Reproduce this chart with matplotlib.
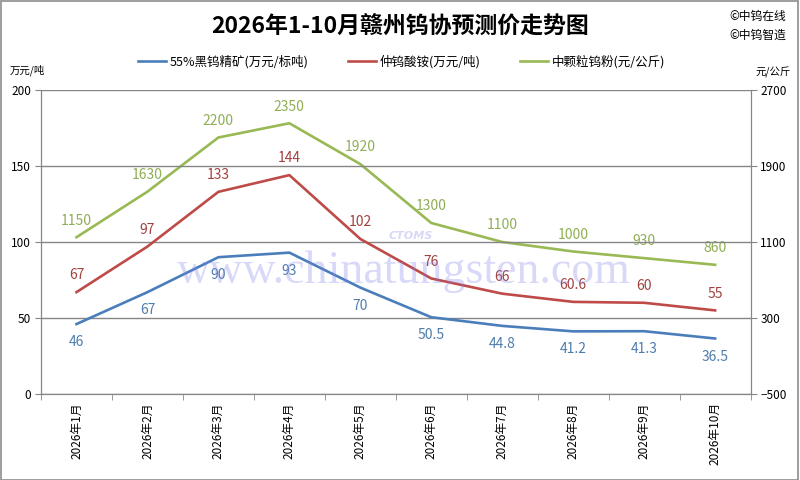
import numpy as np
import matplotlib.pyplot as plt
from matplotlib.patches import Rectangle

plt.rcParams['font.family'] = ['Noto Sans CJK SC', 'DejaVu Sans']

months = ['2026年1月', '2026年2月', '2026年3月', '2026年4月', '2026年5月',
          '2026年6月', '2026年7月', '2026年8月', '2026年9月', '2026年10月']
concentrate = [46, 67, 90, 93, 70, 50.5, 44.8, 41.2, 41.3, 36.5]   # 万元/标吨
apt = [67, 97, 133, 144, 102, 76, 66, 60.6, 60, 55]               # 万元/吨
powder = [1150, 1630, 2200, 2350, 1920, 1300, 1100, 1000, 930, 860]  # 元/公斤

blue, red, green = '#4A7EBB', '#BE4B48', '#98B954'
grid_c = '#868686'

fig = plt.figure(figsize=(8, 4.8), dpi=100)
fig.patches.append(Rectangle((0.001, 0.001), 0.997, 0.997, transform=fig.transFigure,
                             fill=False, edgecolor='#8c8c8c', linewidth=1.2))
ax = fig.add_axes([0.05125, 0.1792, 0.887, 0.6333])
ax2 = ax.twinx()

x = np.arange(len(months))
l1, = ax.plot(x, concentrate, color=blue, lw=1.9, label='55%黑钨精矿(万元/标吨)', zorder=3)
l2, = ax.plot(x, apt, color=red, lw=1.9, label='仲钨酸铵(万元/吨)', zorder=3)
l3, = ax2.plot(x, powder, color=green, lw=1.9, label='中颗粒钨粉(元/公斤)', zorder=3)

def fmt(v):
    return ('%g' % v)

for xi, v in zip(x, concentrate):
    ax.annotate(fmt(v), (xi, v), xytext=(0, -13), textcoords='offset points',
                ha='center', va='center', fontsize=10, color='#4F7DAA')
for xi, v in zip(x, apt):
    ax.annotate(fmt(v), (xi, v), xytext=(0, 12), textcoords='offset points',
                ha='center', va='center', fontsize=10, color='#A0423F')
for xi, v in zip(x, powder):
    ax2.annotate(fmt(v), (xi, v), xytext=(0, 12), textcoords='offset points',
                 ha='center', va='center', fontsize=10, color='#8FAF52')

ax.set_xlim(-0.5, len(months) - 0.5)
ax.set_ylim(0, 200)
ax.set_yticks([0, 50, 100, 150, 200])
ax2.set_ylim(-500, 2700)
ax2.set_yticks([-500, 300, 1100, 1900, 2700])

ax.set_xticks(x)
ax.set_xticklabels(months, rotation=90, fontsize=8.5)
ax.set_xticks(np.arange(-0.5, len(months)), minor=True)
ax.tick_params(axis='x', which='major', length=0, pad=6)
ax.tick_params(axis='x', which='minor', length=4, color=grid_c)
ax.tick_params(axis='y', length=4, color=grid_c, labelsize=8.5, pad=3)
ax2.tick_params(axis='y', length=4, color=grid_c, labelsize=8.5, pad=3)

ax.yaxis.grid(True, color=grid_c, lw=1)
ax.set_axisbelow(True)
for a in (ax, ax2):
    for s in a.spines.values():
        s.set_color(grid_c)
    a.spines['top'].set_visible(False)
ax.set_zorder(ax2.get_zorder() + 1)
ax.patch.set_visible(False)

fig.text(0.5, 0.946, '2026年1-10月赣州钨协预测价走势图', ha='center', va='center',
         fontsize=16.5, fontweight='bold')
fig.text(0.983, 0.965, '©中钨在线', ha='right', va='center', fontsize=8.5)
fig.text(0.983, 0.927, '©中钨智造', ha='right', va='center', fontsize=8.5)
fig.text(0.012, 0.853, '万元/吨', ha='left', va='center', fontsize=7.5)
fig.text(0.988, 0.849, '元/公斤', ha='right', va='center', fontsize=7.5)

fig.legend(handles=[l1, l2, l3], loc='center', bbox_to_anchor=(0.502, 0.871), ncol=3,
           frameon=False, fontsize=9, handlelength=2.2, handletextpad=0.3,
           columnspacing=3.2)

# watermark
fig.text(0.505, 0.433, 'www.chinatungsten.com', ha='center', va='center',
         fontsize=33, family='Liberation Serif', color='#8080ea', alpha=0.3, zorder=5)
fig.text(0.513, 0.508, 'CTOMS', ha='center', va='center', fontsize=8, style='italic',
         fontweight='bold', family='DejaVu Sans', color='#7b7bea', alpha=0.3, zorder=5)

fig.savefig('out.png', dpi=100)
